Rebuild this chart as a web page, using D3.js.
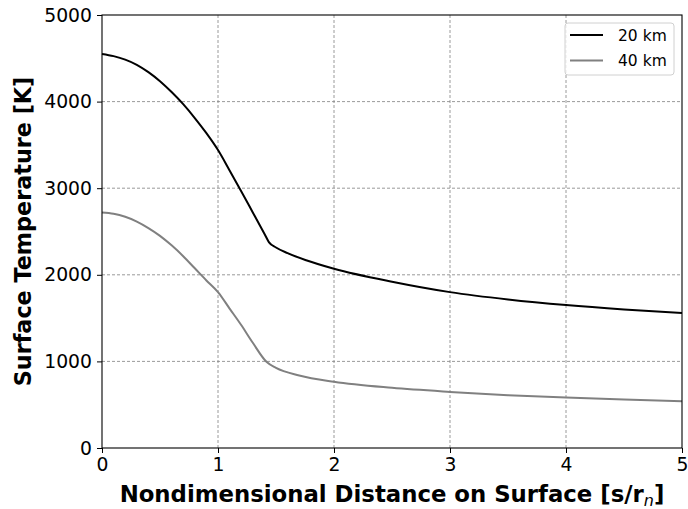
<!DOCTYPE html>
<html>
<head>
<meta charset="utf-8">
<script src="https://cdn.jsdelivr.net/npm/d3@7"></script>
<style>
  body { margin: 0; background: #fff; }
  svg { display: block; font-family: "DejaVu Sans", sans-serif; }
</style>
</head>
<body>
<div id="chart"></div>
<script>
// distance along surface, s/r_n
const s20 = [0, 0.1, 0.2, 0.3, 0.4, 0.5, 0.6, 0.7, 0.8, 0.9, 1.0, 1.1, 1.2, 1.3, 1.4, 1.44, 1.5, 1.6, 1.76, 2.0, 2.5, 3.0, 3.5, 4.0, 4.5, 5.0];
const t20 = [4550, 4525, 4485, 4425, 4340, 4235, 4110, 3970, 3810, 3635, 3440, 3205, 2965, 2720, 2475, 2375, 2315, 2250, 2168, 2070, 1920, 1800, 1715, 1650, 1600, 1560];
const s40 = [0, 0.1, 0.2, 0.3, 0.4, 0.5, 0.6, 0.7, 0.8, 0.9, 1.0, 1.1, 1.2, 1.3, 1.42, 1.5, 1.7, 2.0, 2.5, 3.0, 3.5, 4.0, 4.5, 5.0];
const t40 = [2720, 2705, 2670, 2615, 2540, 2450, 2340, 2215, 2075, 1935, 1800, 1610, 1420, 1215, 992, 925, 838, 765, 695, 648, 610, 582, 560, 540];
const seriesNames = ['20 km', '40 km'];
const seriesColors = ['#000000', '#808080'];
const xTicks = [0, 1, 2, 3, 4, 5];
const yTicks = [0, 1000, 2000, 3000, 4000, 5000];

const W = 688, H = 509;
const margin = { top: 15, right: 6, bottom: 61, left: 102 };
const iw = W - margin.left - margin.right;
const ih = H - margin.top - margin.bottom;

const svg = d3.select('#chart').append('svg').attr('width', W).attr('height', H);
const g = svg.append('g').attr('transform', `translate(${margin.left},${margin.top})`);

const x = d3.scaleLinear().domain([0, 5]).range([0, iw]);
const y = d3.scaleLinear().domain([0, 5000]).range([ih, 0]);

// grid
g.append('g').selectAll('line').data(xTicks.slice(1, -1)).join('line')
  .attr('x1', d => x(d)).attr('x2', d => x(d)).attr('y1', 0).attr('y2', ih)
  .attr('stroke', '#808080').attr('stroke-width', 0.8).attr('stroke-dasharray', '3,2');
g.append('g').selectAll('line').data(yTicks.slice(1, -1)).join('line')
  .attr('y1', d => y(d)).attr('y2', d => y(d)).attr('x1', 0).attr('x2', iw)
  .attr('stroke', '#808080').attr('stroke-width', 0.8).attr('stroke-dasharray', '3,2');

// lines
const line = d3.line().curve(d3.curveMonotoneX).x(d => x(d[0])).y(d => y(d[1]));
const series = [d3.zip(s20, t20), d3.zip(s40, t40)];
series.forEach((data, i) => {
  g.append('path').datum(data)
    .attr('fill', 'none').attr('stroke', seriesColors[i]).attr('stroke-width', 2)
    .attr('stroke-linejoin', 'round')
    .attr('d', line);
});

// axes
const xAxis = g.append('g').attr('transform', `translate(0,${ih})`)
  .call(d3.axisBottom(x).tickValues(xTicks).tickFormat(d3.format('d')).tickSize(5).tickPadding(5));
const yAxis = g.append('g')
  .call(d3.axisLeft(y).tickValues(yTicks).tickFormat(d3.format('d')).tickSize(5).tickPadding(5));
[xAxis, yAxis].forEach(a => {
  a.selectAll('text').attr('font-size', 18.8).attr('font-family', '"DejaVu Sans", sans-serif').attr('fill', '#000');
  a.selectAll('line').attr('stroke', '#000').attr('stroke-width', 1);
  a.select('.domain').remove();
});

// frame
g.append('rect').attr('width', iw).attr('height', ih)
  .attr('fill', 'none').attr('stroke', '#000').attr('stroke-width', 1.1);

// axis titles
const xt = svg.append('text')
  .attr('x', margin.left + iw / 2).attr('y', 502)
  .attr('text-anchor', 'middle').attr('font-size', 22.8).attr('font-weight', 'bold');
xt.append('tspan').text('Nondimensional Distance on Surface [s/r');
xt.append('tspan').attr('font-style', 'italic').attr('font-weight', 'normal').attr('font-size', 16).attr('dy', 4).text('n');
xt.append('tspan').attr('dy', -4).text(']');

svg.append('text')
  .attr('transform', `translate(31,${margin.top + ih / 2}) rotate(-90)`)
  .attr('text-anchor', 'middle').attr('font-size', 22.3).attr('font-weight', 'bold')
  .text('Surface Temperature [K]');

// legend
const lg = svg.append('g').attr('transform', 'translate(565,23)');
lg.append('rect').attr('width', 109).attr('height', 52).attr('rx', 3)
  .attr('fill', '#fff').attr('fill-opacity', 0.8).attr('stroke', '#d0d0d0').attr('stroke-width', 1);
seriesNames.forEach((name, i) => {
  const ly = 12 + i * 25.5;
  lg.append('line').attr('x1', 5).attr('x2', 38).attr('y1', ly).attr('y2', ly)
    .attr('stroke', seriesColors[i]).attr('stroke-width', 2);
  lg.append('text').attr('x', 53).attr('y', ly + 5.5).attr('font-size', 15.5).text(name);
});
</script>
</body>
</html>
